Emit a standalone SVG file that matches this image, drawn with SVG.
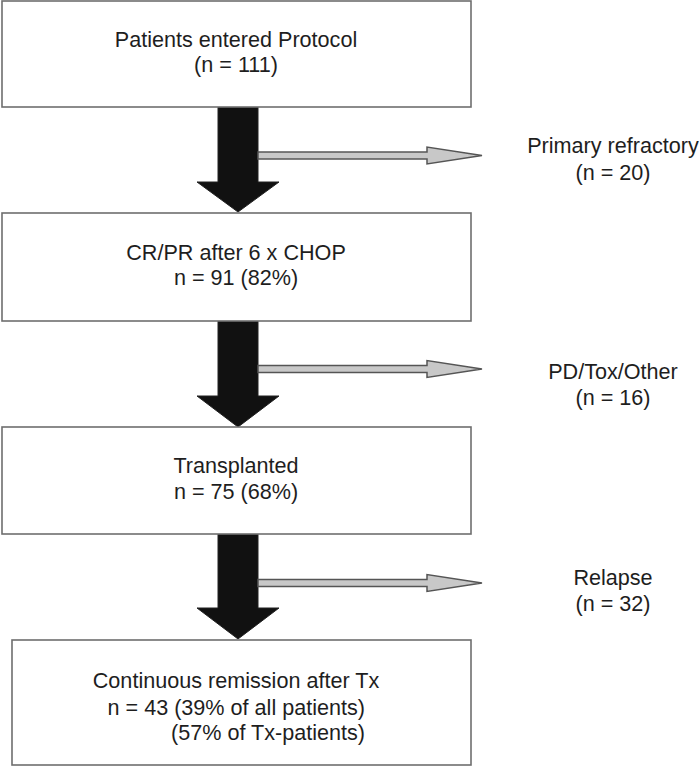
<svg xmlns="http://www.w3.org/2000/svg" width="700" height="775" viewBox="0 0 700 775">
<style>
.box{fill:#fff;stroke:#6e6e6e;stroke-width:1.6}
.t{font-family:"Liberation Sans",Arial,sans-serif;font-size:21.6px;fill:#1e1e1e;text-anchor:middle}
.e{text-anchor:end}
.down{fill:#111;stroke:#222;stroke-width:1}
.side{fill:#c8c8c8;stroke:#555;stroke-width:1.5;stroke-linejoin:miter}
</style>
<rect width="700" height="775" fill="#fff"/>
<g id="connectors">
  <path class="down" d="M218,107 H258 V182 H279 L238,212 L197,182 H218 Z"/>
  <path class="side" d="M258,152 H427 V147 L482,155.5 L427,164 V159 H258 Z"/>
  <path class="down" d="M218,321 H258 V396 H279 L238,427 L197,396 H218 Z"/>
  <path class="side" d="M258,365.5 H427 V360.5 L482,369 L427,377.5 V372.5 H258 Z"/>
  <path class="down" d="M218,534 H258 V608 H279 L238,639 L197,608 H218 Z"/>
  <path class="side" d="M258,579.5 H427 V574.5 L482,583 L427,591.5 V586.5 H258 Z"/>
</g>
<g id="n1">
  <rect class="box" x="2" y="1" width="469" height="106"/>
  <text class="t" x="236" y="47">Patients entered Protocol</text>
  <text class="t" x="236" y="72">(n = 111)</text>
</g>
<g id="n2">
  <rect class="box" x="2" y="213" width="469" height="108"/>
  <text class="t" x="236" y="260">CR/PR after 6 x CHOP</text>
  <text class="t" x="236" y="285">n = 91 (82%)</text>
</g>
<g id="n3">
  <rect class="box" x="2" y="427" width="469" height="107"/>
  <text class="t" x="236" y="473">Transplanted</text>
  <text class="t" x="236" y="499">n = 75 (68%)</text>
</g>
<g id="n4">
  <rect class="box" x="12" y="640" width="459" height="125"/>
  <text class="t" x="236" y="688">Continuous remission after Tx</text>
  <text class="t e" x="365" y="715">n = 43 (39% of all patients)</text>
  <text class="t e" x="365" y="740">(57% of Tx-patients)</text>
</g>
<g id="r1">
  <text class="t" x="613" y="153">Primary refractory</text>
  <text class="t" x="613" y="180">(n = 20)</text>
</g>
<g id="r2">
  <text class="t" x="613" y="379">PD/Tox/Other</text>
  <text class="t" x="613" y="405">(n = 16)</text>
</g>
<g id="r3">
  <text class="t" x="613" y="585">Relapse</text>
  <text class="t" x="613" y="611">(n = 32)</text>
</g>
</svg>
